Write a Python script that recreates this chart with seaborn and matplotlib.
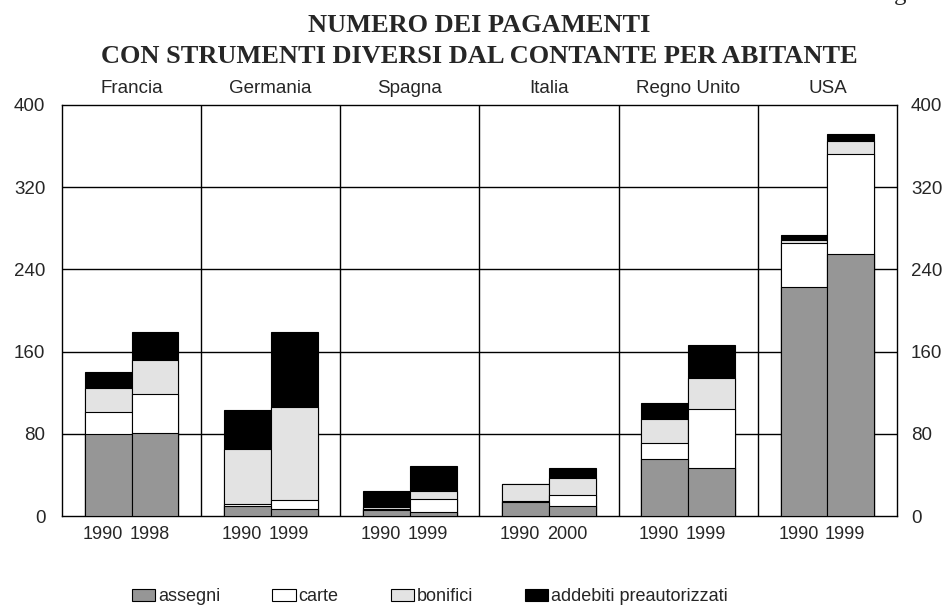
import numpy as np
import pandas as pd
import matplotlib.pyplot as plt
import matplotlib.patches as mpatches
import seaborn as sns

paesi = ['Francia', 'Germania', 'Spagna', 'Italia', 'Regno Unito', 'USA']
anni = [['1990', '1998'], ['1990', '1999'], ['1990', '1999'],
        ['1990', '2000'], ['1990', '1999'], ['1990', '1999']]

# valori per abitante, (anno iniziale, anno finale) per ogni paese
assegni = [80, 81, 10, 7, 6, 4, 14, 10, 55, 47, 223, 255]
carte = [21, 38, 2, 9, 1, 13, 1, 10, 16, 57, 43, 97]
bonifici = [24, 33, 53, 90, 2, 7, 16, 17, 23, 30, 3, 13]
addebiti = [15, 27, 38, 73, 15, 25, 0, 10, 16, 32, 4.5, 7]

strumenti = ['assegni', 'carte', 'bonifici', 'addebiti preautorizzati']
colori = ['#969696', '#ffffff', '#e3e3e3', '#000000']

sns.set_style('white')
plt.rcParams['font.family'] = ['Liberation Sans', 'DejaVu Sans']

bw = 0.337
xpos = [i + (j - 0.5) * bw for i in range(len(paesi)) for j in range(2)]
df = pd.DataFrame({'x': xpos, 'assegni': assegni, 'carte': carte,
                   'bonifici': bonifici, 'addebiti preautorizzati': addebiti})
cum = df[strumenti].cumsum(axis=1)

fig = plt.figure(figsize=(9.46, 6.14), dpi=100)
ax = fig.add_axes([0.0655, 0.1596, 0.8827, 0.6694])

# barre sovrapposte dall'alto verso il basso per ottenere l'effetto impilato
for k in range(len(strumenti) - 1, -1, -1):
    sns.barplot(x=df['x'], y=cum[strumenti[k]], color=colori[k], native_scale=True,
                width=1, edgecolor='black', linewidth=0.8, saturation=1,
                errorbar=None, ax=ax, zorder=3)

ax.set_xlim(-0.5, len(paesi) - 0.5)
ax.set_ylim(0, 400)
ax.set_yticks(np.arange(0, 401, 80))
for y in range(80, 400, 80):
    ax.axhline(y, color='black', linewidth=1, zorder=1)
for i in range(1, len(paesi)):
    ax.axvline(i - 0.5, color='black', linewidth=1, zorder=1)
for s in ax.spines.values():
    s.set_visible(True)
    s.set_color('black')
    s.set_linewidth(1)

# etichette degli anni sotto le barre, leggermente spostate a sinistra
xlab = [x - 0.04 for x in xpos]
ax.set_xticks(xlab)
ax.set_xticklabels([a for coppia in anni for a in coppia], fontsize=13)
ax.tick_params(axis='x', length=0, pad=7)
ax.tick_params(axis='y', length=0, labelsize=13.5, pad=12)
ax.set_xlabel('')
ax.set_ylabel('')

ax2 = ax.twinx()
ax2.set_ylim(0, 400)
ax2.set_yticks(np.arange(0, 401, 80))
ax2.tick_params(axis='y', length=0, labelsize=13.5, pad=10)
for s in ax2.spines.values():
    s.set_visible(False)

for i, p in enumerate(paesi):
    ax.text(i, 1.029, p, transform=ax.get_xaxis_transform(), ha='center',
            va='baseline', fontsize=13.5)

fig.text(0.507, 1 - 32 / 614, 'NUMERO DEI PAGAMENTI', ha='center', va='baseline',
         fontsize=19, fontweight='bold', family='Liberation Serif')
fig.text(0.507, 1 - 63 / 614, 'CON STRUMENTI DIVERSI DAL CONTANTE PER ABITANTE',
         ha='center', va='baseline', fontsize=19, fontweight='bold',
         family='Liberation Serif')
fig.text(0.923, 1.0, 'Fig. 1', ha='left', va='baseline', fontsize=18,
         family='Liberation Serif')

handles = [mpatches.Patch(facecolor=c, edgecolor='black', linewidth=0.8) for c in colori]
fig.legend(handles, strumenti, loc='center left', bbox_to_anchor=(0.1395, 0.0277), ncol=4,
           frameon=False, fontsize=13, handlelength=1.28, handleheight=0.61,
           handletextpad=0.15, columnspacing=2.9, borderpad=0, borderaxespad=0)

fig.savefig('out.png', dpi=100)
